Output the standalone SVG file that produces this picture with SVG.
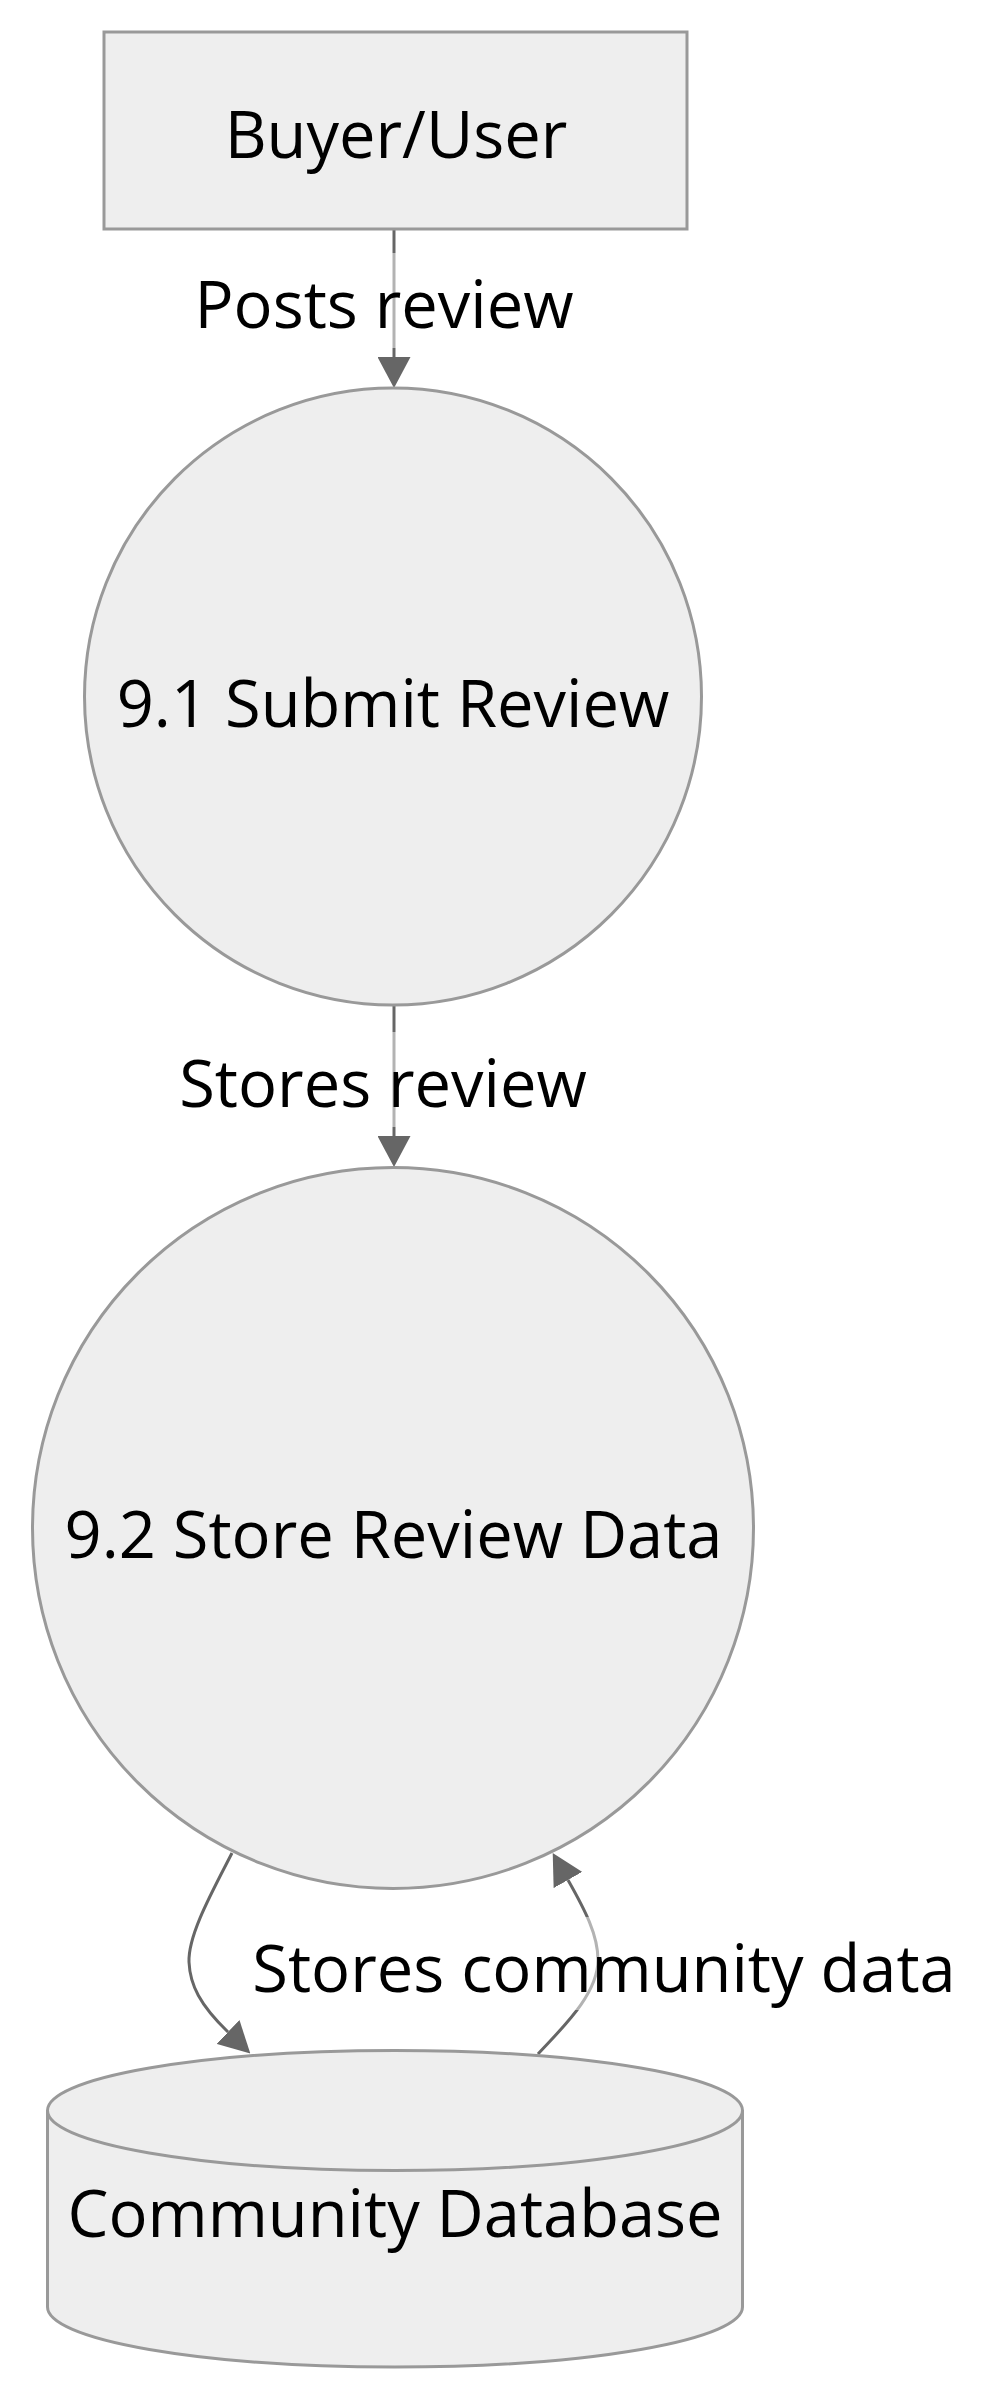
<svg xmlns="http://www.w3.org/2000/svg" width="992" height="2400" viewBox="0 0 992 2400">
<style>
.node{fill:#eeeeee;stroke:#999999;stroke-width:3}
.edge{fill:none;stroke:#666666;stroke-width:3}
.lbl{font-family:"Open Sans","Noto Sans","DejaVu Sans",sans-serif;font-size:65px;fill:#000000;text-anchor:middle}
.lblbg{fill:#ffffff;opacity:0.5}
</style>
<defs>
<marker id="arrow" markerUnits="userSpaceOnUse" viewBox="0 0 31 33" refX="0" refY="16.5" markerWidth="31" markerHeight="33" orient="auto">
<path d="M0,0 L31,16.5 L0,33 z" fill="#666666"/>
</marker>
</defs>
<rect width="992" height="2400" fill="#ffffff"/>
<g id="connectors">
<path class="edge" d="M394,229 L394,357" marker-end="url(#arrow)"/>
<path class="edge" d="M394,1005 L394,1136" marker-end="url(#arrow)"/>
<path class="edge" d="M232,1853 C212,1892 188,1935 189,1962 C190,1985 200,2005 228,2032" marker-end="url(#arrow)"/>
<path class="edge" d="M538,2054 C560,2030 598,1995 598,1960 C598,1935 585,1910 568,1880" marker-end="url(#arrow)"/>
<g id="label-posts">
<rect class="lblbg" x="196" y="253" width="376" height="95"/>
<text class="lbl" x="384" y="328">Posts review</text>
</g>
<g id="label-stores">
<rect class="lblbg" x="178" y="1032" width="410" height="95"/>
<text class="lbl" x="383" y="1107">Stores review</text>
</g>
<g id="label-community">
<rect class="lblbg" x="258" y="1917" width="692" height="93"/>
<text class="lbl" x="604" y="1992">Stores community data</text>
</g>
</g>
<g id="buyer">
<rect class="node" x="104" y="32" width="583" height="197"/>
<text class="lbl" x="396" y="158">Buyer/User</text>
</g>
<g id="submit">
<circle class="node" cx="393" cy="696.5" r="308.5"/>
<text class="lbl" x="393" y="727">9.1 Submit Review</text>
</g>
<g id="store">
<circle class="node" cx="393" cy="1528" r="360.5"/>
<text class="lbl" x="393.5" y="1558">9.2 Store Review Data</text>
</g>
<g id="database">
<path class="node" d="M47.5,2110.5 a347.5,60 0 0,0 695,0 a347.5,60 0 0,0 -695,0 l0,196.5 a347.5,60 0 0,0 695,0 l0,-196.5"/>
<text class="lbl" x="395" y="2237">Community Database</text>
</g>
</svg>
